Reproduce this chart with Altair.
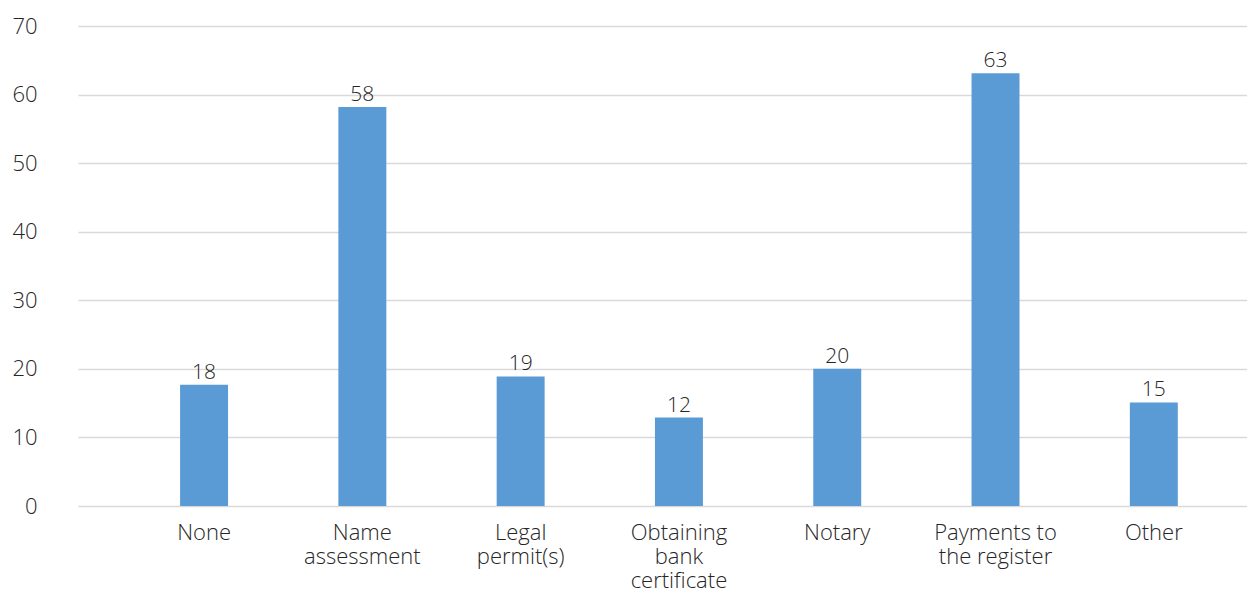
import altair as alt
import pandas as pd

categories = ["None", "Name|assessment", "Legal|permit(s)", "Obtaining|bank|certificate",
              "Notary", "Payments to|the register", "Other"]
values = [17.7, 58.2, 18.9, 12.9, 20.0, 63.1, 15.1]
value_labels = ["18", "58", "19", "12", "20", "63", "15"]
y_ticks = [0, 10, 20, 30, 40, 50, 60, 70]

df = pd.DataFrame({"category": categories, "value": values, "label": value_labels})

FONT = "Open Sans"
TEXT = "#262626"

x = alt.X("category:N", sort=categories, title=None,
          scale=alt.Scale(paddingInner=0.697, paddingOuter=0.541, align=0.596),
          axis=alt.Axis(labelExpr="split(datum.label, '|')", labelAngle=0,
                        labelFontSize=22, labelFont=FONT, labelFontWeight=300, labelColor=TEXT,
                        labelLineHeight=24, labelPadding=16, labelBaseline="top",
                        ticks=False, domain=False, grid=False))
y = alt.Y("value:Q", title=None,
          scale=alt.Scale(domain=[0, 70], nice=False),
          axis=alt.Axis(values=y_ticks, labelFontSize=22, labelFont=FONT, labelFontWeight=300,
                        labelColor=TEXT,
                        labelPadding=41, ticks=False, domain=False, grid=True,
                        gridColor="#d9d9d9", gridWidth=1.5, minExtent=70, maxExtent=70))

bars = alt.Chart(df).mark_bar(color="#5b9bd5").encode(x=x, y=y)
labels = alt.Chart(df).mark_text(font=FONT, fontSize=21, fontWeight=300, color=TEXT, dy=-6,
                                 baseline="alphabetic").encode(x=x, y=y, text="label:N")

chart = (bars + labels).properties(
    width=1169, height=480,
    padding={"left": 0, "top": 7, "right": 0, "bottom": 0},
).configure_view(stroke=None)

chart.save("out.html", embed_options={"renderer": "svg", "actions": False})
